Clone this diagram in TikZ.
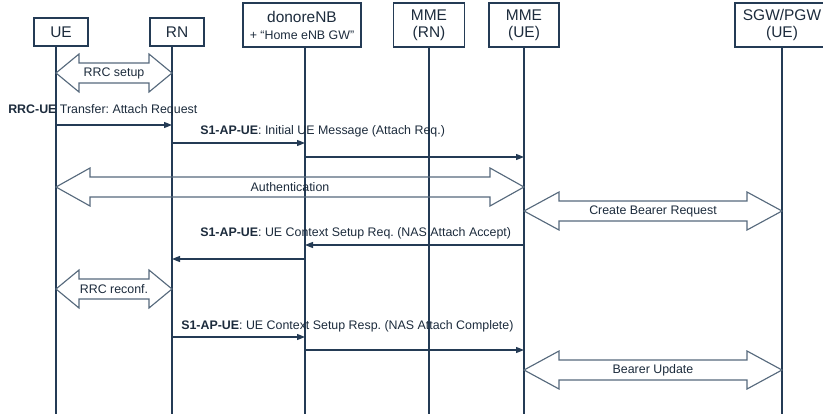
\documentclass[tikz,border=0pt]{standalone}
\usepackage{fontspec}
\setmainfont{Liberation Sans}
\usepackage{tikz}
\usetikzlibrary{arrows.meta, calc}
\usepackage{xcolor}
\definecolor{lineblue}{HTML}{243B55}
\definecolor{textblue}{HTML}{1C2B3C}
\definecolor{arrowgrey}{HTML}{56697C}
\frenchspacing

% two-way block arrow between two lifelines: left, right, y, head length, label, name
\newcommand{\twowayarrow}[6]{%
  \coordinate (#6l) at (#1 |- 0,#3);
  \coordinate (#6r) at (#2 |- 0,#3);
  \draw[bigarrow] (#6l) -- ++(#4,-19) -- ++(0,9) -- ($(#6r)+(-#4,-10)$) -- ++(0,-9)
    -- (#6r) -- ++(-#4,19) -- ++(0,-9) -- ($(#6l)+(#4,10)$) -- ++(0,9) -- cycle;
  \node[biglabel] (#6) at ($(#6l)!0.5!(#6r)$) {#5};
}

\begin{document}
\begin{tikzpicture}[x=0.75pt, y=-0.75pt,
  entity/.style={draw=lineblue, line width=0.9pt, align=center, text=textblue,
                 font=\fontsize{11.6}{12.75}\selectfont, inner sep=0pt},
  lifeline/.style={draw=lineblue, line width=1.1pt},
  msgline/.style={draw=lineblue, line width=0.95pt, -{Triangle[length=6pt,width=4.5pt]}},
  msglabel/.style={font=\fontsize{9.3}{11}\selectfont, text=textblue, anchor=west, inner sep=0pt},
  bigarrow/.style={draw=arrowgrey, line width=0.85pt, line join=miter},
  biglabel/.style={font=\fontsize{9.3}{11}\selectfont, text=textblue, inner sep=0pt}]
\useasboundingbox (0,0) rectangle (823,414);

% lifeline positions
\coordinate (ue) at (56,0);
\coordinate (rn) at (172,0);
\coordinate (enb) at (305,0);
\coordinate (mmern) at (429,0);
\coordinate (mmeue) at (524,0);
\coordinate (sgw) at (782,0);

% entities
\node[entity, minimum width=40.5pt, minimum height=21pt] (ueBox) at (61,32) {UE};
\node[entity, minimum width=40.5pt, minimum height=21pt] (rnBox) at (177,32) {RN};
\node[entity, minimum width=88.5pt, minimum height=33pt] (enbBox) at (302,25)
  {donoreNB\\{\fontsize{9.3}{11}\selectfont + ``Home eNB GW''}};
\node[entity, minimum width=53.25pt, minimum height=33pt] (mmernBox) at (429,25) {MME\\(RN)};
\node[entity, minimum width=52.5pt, minimum height=33pt] (mmeueBox) at (524,25) {MME\\(UE)};
\node[entity, minimum width=70.5pt, minimum height=33pt] (sgwBox) at (782,25) {SGW/PGW\\(UE)};

\draw[lifeline] (ueBox.south -| ue) -- (ue |- 0,414);
\draw[lifeline] (rnBox.south -| rn) -- (rn |- 0,414);
\draw[lifeline] (enbBox.south -| enb) -- (enb |- 0,414);
\draw[lifeline] (mmernBox.south -| mmern) -- (mmern |- 0,414);
\draw[lifeline] (mmeueBox.south -| mmeue) -- (mmeue |- 0,414);
\draw[lifeline] (sgwBox.south -| sgw) -- (sgw |- 0,414);

% signalling
\twowayarrow{ue}{rn}{73}{23}{RRC setup}{rrcSetup}

\node[msglabel] (attachReq) at (8,110) {\textbf{RRC-UE} Transfer: Attach Request};
\draw[msgline] (ue |- 0,125) -- (rn |- 0,125);

\node[msglabel] (initUe) at (200,131) {\textbf{S1-AP-UE}: Initial UE Message (Attach Req.)};
\draw[msgline] (rn |- 0,143) -- (enb |- 0,143);
\draw[msgline] (enb |- 0,157) -- (mmeue |- 0,157);

\twowayarrow{ue}{mmeue}{187}{34}{Authentication}{auth}
\twowayarrow{mmeue}{sgw}{211}{35}{Create Bearer Request}{createBearer}

\node[msglabel] (ctxReq) at (200,233) {\textbf{S1-AP-UE}: UE Context Setup Req. (NAS Attach Accept)};
\draw[msgline] (mmeue |- 0,245) -- (enb |- 0,245);
\draw[msgline] (enb |- 0,259) -- (rn |- 0,259);

\twowayarrow{ue}{rn}{289}{23}{RRC reconf.}{rrcReconf}

\node[msglabel] (ctxResp) at (181,326) {\textbf{S1-AP-UE}: UE Context Setup Resp. (NAS Attach Complete)};
\draw[msgline] (rn |- 0,337) -- (enb |- 0,337);
\draw[msgline] (enb |- 0,350) -- (mmeue |- 0,350);

\twowayarrow{mmeue}{sgw}{370}{35}{Bearer Update}{bearerUpdate}
\end{tikzpicture}
\end{document}
